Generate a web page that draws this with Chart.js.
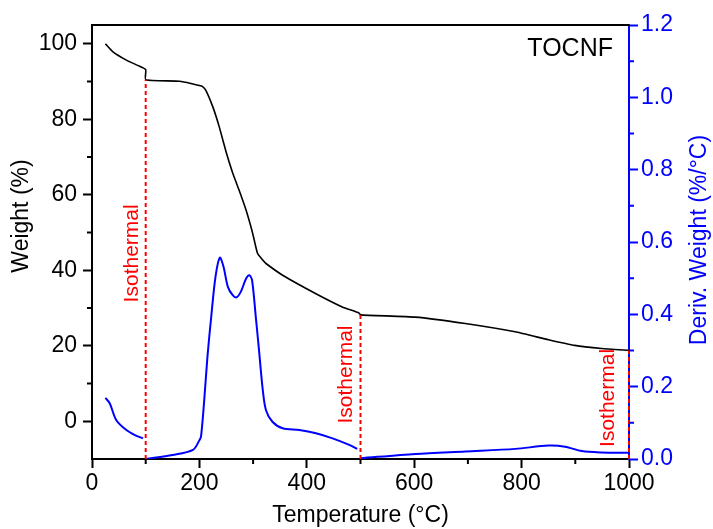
<!DOCTYPE html>
<html>
<head>
<meta charset="utf-8">
<script src="https://cdn.jsdelivr.net/npm/chart.js@4.4.0/dist/chart.umd.min.js"></script>
<style>
html, body { margin: 0; padding: 0; background: #fff; }
</style>
</head>
<body>
<canvas id="tga-chart" width="713" height="529"></canvas>
<script>
// TGA / DTG data for TOCNF
var weightTemp = [25, 39, 64, 85, 100, 100, 163, 205, 212, 225, 237, 250, 262, 274, 287, 299, 308, 318, 324, 355, 417, 466, 497, 500, 602, 695, 788, 850, 899, 949, 1000];
var weightPct  = [100, 97.9, 95.7, 94.3, 93.2, 90.5, 90.1, 88.8, 87.7, 83.3, 78, 71.2, 65.8, 61.2, 55.9, 49.9, 44.6, 42.7, 41.8, 38.7, 33.8, 30.3, 28.7, 28.2, 27.6, 25.9, 23.7, 21.6, 20.1, 19.3, 18.8];

// null = break in the curve (isothermal holds)
var derivTemp = [25, 33, 45, 64, 80, 95, 98, 100, 150, 188, 200, 203, 209, 215, 222, 230, 238, 245, 253, 262, 269, 277, 287, 293, 298, 305, 311, 318, 324, 336, 355, 386, 417, 448, 479, 494, 497, 500, 602, 695, 788, 850, 881, 912, 949, 992, 1000];
var derivVal  = [0.169, 0.154, 0.108, 0.080, 0.066, 0.057, null, 0.0, 0.011, 0.025, 0.052, 0.062, 0.163, 0.283, 0.393, 0.504, 0.557, 0.531, 0.476, 0.453, 0.447, 0.462, 0.499, 0.508, 0.495, 0.393, 0.301, 0.191, 0.135, 0.103, 0.085, 0.080, 0.071, 0.057, 0.039, 0.028, null, 0.002, 0.014, 0.021, 0.028, 0.037, 0.034, 0.022, 0.018, 0.017, 0.017];

// isothermal markers: temperature and the weight where the dashed line stops
var isoTemp = [100, 500, 1000];
var isoTop  = [90.5, 28.6, 18.8];

// tick values
var xMinor  = [100, 300, 500, 700, 900];
var yMinor  = [10, 30, 50, 70, 90];
var y2Minor = [0.1, 0.3, 0.5, 0.7, 0.9, 1.1];

var FONT = "'Liberation Sans', Arial, sans-serif";
var BLUE = '#0000ff';
var RED = '#ff0000';

Chart.defaults.font.family = FONT;

function pts(xs, ys) {
  return xs.map(function (x, i) { return { x: x, y: ys[i] }; });
}

// extra drawing: top frame, minor ticks, labels
var decor = {
  id: 'decor',
  afterDraw: function (chart) {
    var ctx = chart.ctx;
    var a = chart.chartArea;
    var xs = chart.scales.x, yl = chart.scales.y, yr = chart.scales.y2;
    ctx.save();

    // top frame
    ctx.strokeStyle = '#000';
    ctx.lineWidth = 2;
    ctx.beginPath();
    ctx.moveTo(a.left - 1, a.top);
    ctx.lineTo(a.right, a.top);
    ctx.stroke();

    // minor ticks
    ctx.beginPath();
    xMinor.forEach(function (v) {
      var p = xs.getPixelForValue(v);
      ctx.moveTo(p, a.bottom);
      ctx.lineTo(p, a.bottom + 5);
    });
    yMinor.forEach(function (v) {
      var p = yl.getPixelForValue(v);
      ctx.moveTo(a.left, p);
      ctx.lineTo(a.left - 5, p);
    });
    ctx.stroke();
    ctx.strokeStyle = BLUE;
    ctx.beginPath();
    y2Minor.forEach(function (v) {
      var p = yr.getPixelForValue(v);
      ctx.moveTo(a.right, p);
      ctx.lineTo(a.right + 5, p);
    });
    ctx.stroke();

    // "Isothermal" labels, rotated
    var isoLabelX = [74, 474, 961];
    var isoLabelY = [31.5, -0.6, -6.8];
    ctx.fillStyle = RED;
    ctx.font = '21px ' + FONT;
    ctx.textAlign = 'left';
    ctx.textBaseline = 'middle';
    for (var i = 0; i < isoLabelX.length; i++) {
      ctx.save();
      ctx.translate(xs.getPixelForValue(isoLabelX[i]), yl.getPixelForValue(isoLabelY[i]));
      ctx.rotate(-Math.PI / 2);
      ctx.fillText('Isothermal', 0, 0);
      ctx.restore();
    }

    // sample name
    ctx.fillStyle = '#000';
    ctx.font = '25px ' + FONT;
    ctx.textAlign = 'right';
    ctx.textBaseline = 'alphabetic';
    ctx.fillText('TOCNF', a.right - 16, a.top + 31);

    // y axis titles
    ctx.font = '23px ' + FONT;
    ctx.textAlign = 'center';
    ctx.textBaseline = 'middle';
    ctx.save();
    ctx.translate(22, 216);
    ctx.rotate(-Math.PI / 2);
    ctx.fillText('Weight (%)', 0, 0);
    ctx.restore();

    ctx.fillStyle = BLUE;
    ctx.save();
    ctx.translate(700, 240);
    ctx.rotate(-Math.PI / 2);
    ctx.fillText('Deriv. Weight (%/°C)', 0, 0);
    ctx.restore();

    ctx.restore();
  }
};

var datasets = [];
isoTemp.forEach(function (t, i) {
  datasets.push({
    label: 'iso' + t,
    data: [{ x: t, y: -10 }, { x: t, y: isoTop[i] }],
    yAxisID: 'y',
    borderColor: RED,
    borderWidth: 2,
    borderDash: [4, 3],
    pointRadius: 0,
    clip: 4
  });
});
datasets.push({
  label: 'Weight',
  data: pts(weightTemp, weightPct),
  yAxisID: 'y',
  borderColor: '#000',
  borderWidth: 1.6,
  pointRadius: 0,
  tension: 0.15
});
datasets.push({
  label: 'Deriv. Weight',
  data: pts(derivTemp, derivVal),
  yAxisID: 'y2',
  borderColor: BLUE,
  borderWidth: 2,
  pointRadius: 0,
  spanGaps: false,
  tension: 0.3
});

var ctx = document.getElementById('tga-chart').getContext('2d');
var tgaChart = new Chart(ctx, {
  type: 'line',
  data: { datasets: datasets },
  options: {
    responsive: false,
    devicePixelRatio: 1,
    animation: false,
    layout: { padding: { top: 25, left: 0, right: 0, bottom: 0 } },
    plugins: {
      legend: { display: false },
      tooltip: { enabled: false }
    },
    scales: {
      x: {
        type: 'linear',
        position: 'bottom',
        min: 0,
        max: 1000,
        ticks: {
          stepSize: 200, color: '#000', font: { size: 23 }, padding: 2, maxRotation: 0,
          callback: function (v) { return String(v); }
        },
        grid: { drawOnChartArea: false, tickLength: 9, tickColor: '#000', tickWidth: 2 },
        border: { color: '#000', width: 2 },
        title: { display: true, text: 'Temperature (°C)', color: '#000', font: { size: 23 }, padding: { top: 0, bottom: 0 } },
        afterFit: function (s) { s.height = 70; }
      },
      y: {
        position: 'left',
        min: -10,
        max: 105,
        ticks: { stepSize: 20, includeBounds: false, color: '#000', font: { size: 23 }, padding: 6 },
        grid: { drawOnChartArea: false, tickLength: 9, tickColor: '#000', tickWidth: 2 },
        border: { color: '#000', width: 2 },
        afterFit: function (s) { s.width = 92; }
      },
      y2: {
        position: 'right',
        min: 0,
        max: 1.2,
        ticks: {
          stepSize: 0.2, color: BLUE, font: { size: 23 }, padding: 3,
          callback: function (v) { return v.toFixed(1); }
        },
        grid: { drawOnChartArea: false, tickLength: 9, tickColor: BLUE, tickWidth: 2 },
        border: { color: BLUE, width: 2 },
        afterFit: function (s) { s.width = 84; }
      }
    }
  },
  plugins: [decor]
});
</script>
</body>
</html>
